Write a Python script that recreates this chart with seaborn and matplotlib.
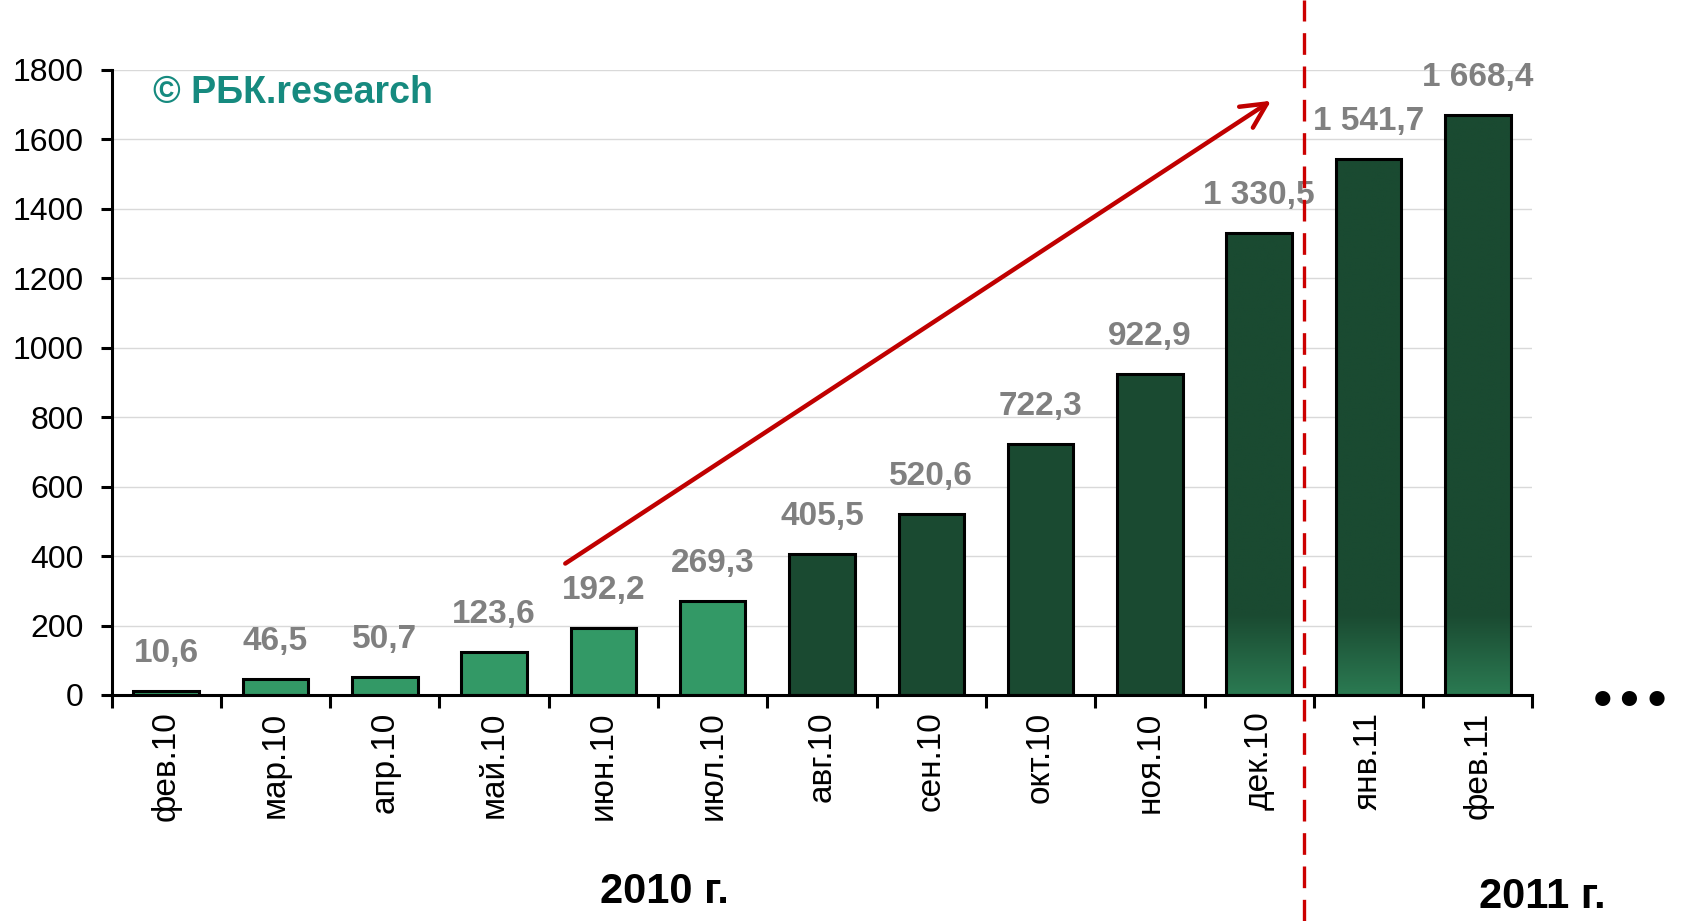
import matplotlib
matplotlib.use('Agg')
import matplotlib.pyplot as plt
import matplotlib.colors as mcolors
import numpy as np
import seaborn as sns

# Chart data.
months = ['фев.10', 'мар.10', 'апр.10', 'май.10', 'июн.10', 'июл.10', 'авг.10',
          'сен.10', 'окт.10', 'ноя.10', 'дек.10', 'янв.11', 'фев.11']
values = [10.6, 46.5, 50.7, 123.6, 192.2, 269.3, 405.5, 520.6, 722.3, 922.9,
          1330.5, 1541.7, 1668.4]
years = ['2010 г.', '2011 г.']
y_ticks = [0, 200, 400, 600, 800, 1000, 1200, 1400, 1600, 1800]

# Colours.
light_green = '#339966'
dark_green = '#1a4a31'
grad_green = '#2b7a52'
bar_colors = [light_green] * 6 + [dark_green] * 7
gradient_bars = [10, 11, 12]

sns.set_theme(style='white')
plt.rcParams['font.family'] = ['Liberation Sans', 'DejaVu Sans']
plt.rcParams['text.color'] = 'black'

fig = plt.figure(figsize=(16.82, 9.21), dpi=100)
ax = fig.add_axes([0.0663, 0.2454, 0.8448, 0.6789])

sns.barplot(x=months, y=values, hue=months, palette=bar_colors, legend=False,
            width=0.6, saturation=1, edgecolor='black', linewidth=2.2, ax=ax)

# Gradient at the bottom of the last bars.
bars = sorted(ax.patches, key=lambda p: p.get_x())
dark = np.array(mcolors.to_rgb(dark_green))
light = np.array(mcolors.to_rgb(grad_green))
for i in gradient_bars:
    p = bars[i]
    h = p.get_height()
    yy = np.linspace(h, 0, 300)
    t = np.clip(1 - yy / 230.0, 0, 1)[:, None]
    img = (dark * (1 - t) + light * t)[:, None, :]
    im = ax.imshow(img, extent=(p.get_x(), p.get_x() + p.get_width(), 0, h),
                   aspect='auto', zorder=p.get_zorder() - 0.01, interpolation='bilinear')
    im.set_clip_path(p)
    p.set_facecolor('none')

# Value labels.
for i, v in enumerate(values):
    lbl = '{:,.1f}'.format(v).replace(',', ' ').replace('.', ',')
    ax.annotate(lbl, (i, v), xytext=(0, 27), textcoords='offset points',
                ha='center', va='center', fontsize=24, fontweight='bold',
                color='#808080')

ax.set_xlim(-0.5, len(months) - 0.5)
ax.set_ylim(0, 1800)
ax.set_yticks(y_ticks)
ax.set_yticklabels([str(t) for t in y_ticks], fontsize=23, color='black')
ax.set_xticks(range(len(months)))
ax.set_xticklabels(months, rotation=90, fontsize=24, color='black')
ax.set_xticks(np.arange(-0.5, len(months)), minor=True)
ax.tick_params(axis='x', which='major', length=0, pad=12)
ax.tick_params(axis='x', which='minor', length=9, width=2.2, color='black', bottom=True)
ax.tick_params(axis='y', length=8, width=2.2, pad=12, color='black', left=True)

ax.yaxis.grid(True, color='#d9d9d9', lw=1)
ax.set_axisbelow(True)
for s in ['top', 'right']:
    ax.spines[s].set_visible(False)
for s in ['left', 'bottom']:
    ax.spines[s].set_linewidth(2.2)
    ax.spines[s].set_color('black')

# Red dashed divider between years and trend arrow.
ax.axvline(10.41, ymin=-0.362, ymax=1.112, color='#cc0000', lw=2.4,
           dashes=(6.5, 3.5), clip_on=False, zorder=5)
ax.annotate('', xy=(10.13, 1715), xytext=(3.63, 374),
            arrowprops=dict(arrowstyle='->,head_length=0.9,head_width=0.45',
                            color='#c00000', lw=3.2, mutation_scale=20),
            zorder=6)

fig.text(0.091, 0.8985, '© РБК.research', fontsize=27, fontweight='bold',
         color='#168a7f', ha='left', va='center')
fig.text(0.395, 0.032, years[0], fontsize=30, fontweight='bold',
         family=['Liberation Sans Narrow', 'Liberation Sans'], ha='center', va='center')
fig.text(0.917, 0.026, years[1], fontsize=30, fontweight='bold',
         family=['Liberation Sans Narrow', 'Liberation Sans'], ha='center', va='center')
fig.text(0.969, 0.238, '•••', fontsize=31, fontweight='bold', color='black',
         family=['DejaVu Sans'], ha='center', va='center')

fig.savefig('out.png', dpi=100)
